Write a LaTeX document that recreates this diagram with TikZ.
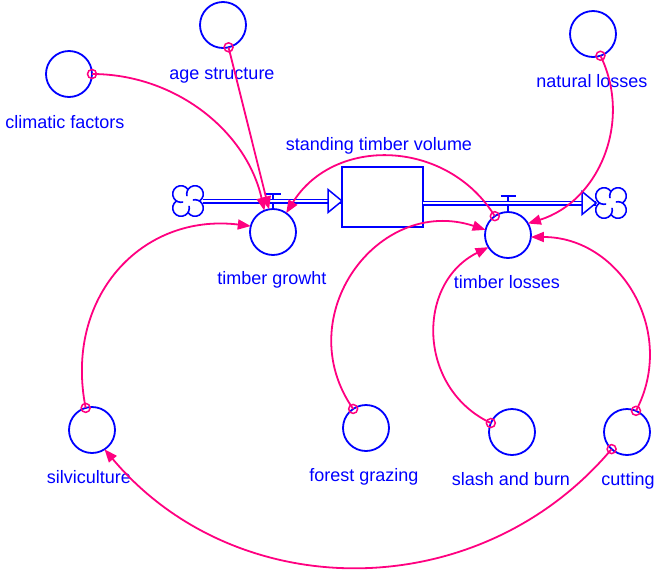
\documentclass[tikz,border=0pt]{standalone}
\usepackage{fontspec}
\setmainfont{Liberation Sans}
\usetikzlibrary{arrows.meta,calc}
\definecolor{vblue}{RGB}{0,0,255}
\definecolor{vpink}{RGB}{255,0,128}
\tikzset{
  vcloud/.pic={
    \foreach \a in {45,135,225,315}{
      \draw[vblue,line width=1.6pt] (\a:9.9pt) ++(\a-102.5:8.3pt)
        arc[start angle=\a-102.5,end angle=\a+150,radius=8.3pt];
    }
  }
}
\begin{document}
\begin{tikzpicture}[x=1pt,y=-1pt,
  aux/.style={circle,draw=vblue,line width=1.8pt,minimum size=46pt,inner sep=0pt,outer sep=0pt},
  lbl/.style={text=vblue,font=\fontsize{18}{20}\selectfont,anchor=base,inner sep=0pt},
  stockbox/.style={rectangle,draw=vblue,line width=1.8pt,minimum width=81pt,minimum height=60pt,inner sep=0pt,outer sep=0pt},
  link/.style={draw=vpink,line width=1.8pt,-{Triangle[length=13pt,width=10pt]}},
  hook/.style={draw=vpink,line width=1.5pt},
  pipe/.style={draw=vblue,double=white,double distance=2.6pt,line width=1.2pt},
  valve/.style={draw=vblue,line width=1.6pt},
  pipehead/.style={draw=vblue,fill=white,line width=1.5pt,line join=miter},
  cloudmark/.style={circle,minimum size=30pt,inner sep=0pt,outer sep=0pt},
]
\useasboundingbox (0,0) rectangle (654,571);

% stock and auxiliaries
\node[stockbox] (stock) at (382.5,197) {};
\node[aux] (clim) at (69,74) {};
\node[aux] (age)  at (223,25) {};
\node[aux] (nat)  at (593,34) {};
\node[aux] (tg)   at (273,232) {};
\node[aux] (tl)   at (508,235) {};
\node[aux] (silv) at (92,430) {};
\node[aux] (fg)   at (366,428) {};
\node[aux] (sb)   at (512,432) {};
\node[aux] (cut)  at (627,432) {};

% clouds
\node[cloudmark] (cL) at (188,201) {};
\node[cloudmark] (cR) at (611,203) {};
\pic at (cL) {vcloud};
\pic at (cR) {vcloud};

% labels
\node[lbl] (lclim) at (65,128) {climatic factors};
\node[lbl] (lage)  at (222,79) {age structure};
\node[lbl] (lnat)  at (592,87) {natural losses};
\node[lbl] (lstock) at (379,150.5) {standing timber volume};
\node[lbl] (ltg)   at (272,284) {timber growht};
\node[lbl] (ltl)   at (507,288) {timber losses};
\node[lbl] (lsilv) at (89,483) {silviculture};
\node[lbl] (lfg)   at (364,481) {forest grazing};
\node[lbl] (lsb)   at (511,485) {slash and burn};
\node[lbl] (lcut)  at (628,485) {cutting};

% valves (drawn before pipes)
\draw[valve] (tg.north) -- ++(0,-15) coordinate (vt1);
\draw[valve] ($(vt1)+(-7.5,0)$) -- ($(vt1)+(7.5,0)$);
\draw[valve] (tl.north) -- ++(0,-16) coordinate (vt2);
\draw[valve] ($(vt2)+(-7.5,0)$) -- ($(vt2)+(7.5,0)$);

% pipes
\draw[pipe] (cL.east) -- (cL.east -| stock.west);
\draw[pipe] (stock.east |- cR.west) -- (cR.west);
\draw[pipehead] (cL.east -| stock.west) -- ++(-14,-11.5) -- ++(0,23) -- cycle;
\draw[pipehead] (cR.west) -- ++(-14,-11.5) -- ++(0,23) -- cycle;

% links
\draw[link] (clim.0) .. controls (175,74) and (246.4,130.7) .. (tg.112);
\draw[link] (age.-76) -- (tg.100);
\draw[link] (tl.125) .. controls (447,138.8) and (334,135.8) .. (tg.55);
\draw[link] (silv.106) .. controls (63.7,298) and (140.8,212.8) .. (tg.165);
\draw[link] (fg.124) .. controls (288.5,316.3) and (378.3,194.6) .. (tl.167);
\draw[link] (sb.157) .. controls (417.3,388.5) and (415.7,283.3) .. (tl.-148);
\draw[link] (cut.67) .. controls (677.6,331.7) and (620.3,237) .. (tl.-5);
\draw[link] (nat.-71) .. controls (632.8,122) and (598.4,201.7) .. (tl.30);
\draw[link] (cut.-132) .. controls (479.3,606.3) and (236.8,606.5) .. (silv.-57);

% hooks
\draw[hook] (clim.0) circle[radius=4.5pt];
\draw[hook] (age.-76) circle[radius=4.5pt];
\draw[hook] (tl.125) circle[radius=4.5pt];
\draw[hook] (silv.106) circle[radius=4.5pt];
\draw[hook] (fg.124) circle[radius=4.5pt];
\draw[hook] (sb.157) circle[radius=4.5pt];
\draw[hook] (cut.67) circle[radius=4.5pt];
\draw[hook] (nat.-71) circle[radius=4.5pt];
\draw[hook] (cut.-132) circle[radius=4.5pt];
\end{tikzpicture}
\end{document}
